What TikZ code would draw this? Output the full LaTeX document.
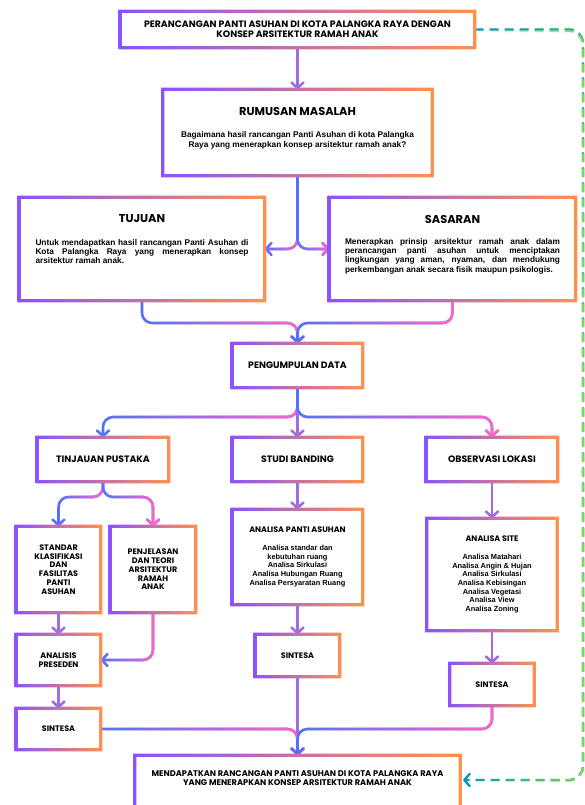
\documentclass[tikz,border=0pt]{standalone}
\usepackage{fontspec}
\setmainfont{Poppins}
\newfontfamily\bodyf{Liberation Sans}
\usetikzlibrary{arrows.meta,fadings}
\definecolor{bpurple}{HTML}{8C52FF}
\definecolor{borange}{HTML}{FF914D}
\definecolor{cblue}{HTML}{5271FF}
\definecolor{cpink}{HTML}{FF66C4}
\definecolor{dteal}{HTML}{0097B2}
\definecolor{dgreen}{HTML}{7ED957}
\tikzfading[name=fadeR, left color=transparent!100, right color=transparent!0]
\newcommand{\gframe}[1]{\shade[left color=bpurple,right color=borange,even odd rule]
 ([shift={(-1.6pt,-1.6pt)}]#1.south west) rectangle ([shift={(1.6pt,1.6pt)}]#1.north east)
 ([shift={(1.6pt,1.6pt)}]#1.south west) rectangle ([shift={(-1.6pt,-1.6pt)}]#1.north east);}
\tikzset{
  bx/.style 2 args={inner sep=0pt, minimum width=#1pt, minimum height=#2pt, align=center},
  ttl/.style={font=\fontsize{9.3}{10.4}\selectfont\bfseries},
  lbl/.style={font=\fontsize{8}{8.7}\selectfont\bfseries},
  big/.style={font=\fontsize{11.4}{13}\selectfont\bfseries},
  bodytxt/.style={font=\bodyf\bfseries\fontsize{8.3}{9.4}\selectfont},
  listtxt/.style={font=\bodyf\bfseries\fontsize{7.4}{8.7}\selectfont},
  tipA/.tip={Straight Barb[length=5.5pt,width=12pt,round]},
  conn/.style={line width=2.6pt, draw=cblue, rounded corners=10pt, line cap=round, -tipA,
     postaction={draw=cpink, path fading=fadeR}},
  vconn/.style={line width=2.6pt, draw=cblue!55!cpink, line cap=round, -tipA},
  dconn/.style={line width=2.4pt, draw=dteal, rounded corners=14pt, dash pattern=on 9pt off 6pt, -tipA,
     postaction={draw=dgreen, dash pattern=on 9pt off 6pt, path fading=fadeR}},
}
\begin{document}
\begin{tikzpicture}[x=1pt,y=-1pt]
\useasboundingbox[fill=white] (0,0) rectangle (585,805);

% boxes
\node[bx={354}{36}, ttl] (top) at (297.5,29.5) {PERANCANGAN PANTI ASUHAN DI KOTA PALANGKA RAYA DENGAN\\KONSEP ARSITEKTUR RAMAH ANAK};
\node[bx={269}{86}] (rum) at (297.5,132.5) {};
\node[bx={245}{103}] (tuj) at (142,249) {};
\node[bx={246}{103}] (sas) at (452.5,249) {};
\node[bx={130}{44}, ttl] (peng) at (297.5,365.5) {PENGUMPULAN DATA};
\node[bx={131}{44}, ttl] (tinj) at (103,459.5) {TINJAUAN PUSTAKA};
\node[bx={130}{44}, ttl] (stud) at (297.5,459.5) {STUDI BANDING};
\node[bx={131}{44}, ttl] (obs) at (492,459.5) {OBSERVASI LOKASI};
\node[bx={84}{86}, lbl] (std) at (58.5,569.5) {STANDAR\\KLASIFIKASI\\DAN\\FASILITAS\\PANTI\\ASUHAN};
\node[bx={85}{86}, lbl] (pen) at (153,569.5) {PENJELASAN\\DAN TEORI\\ARSITEKTUR\\RAMAH\\ANAK};
\node[bx={84}{51}, lbl] (pre) at (58.5,660) {ANALISIS\\PRESEDEN};
\node[bx={84}{41}, lbl] (sinL) at (58.5,729) {SINTESA};
\node[bx={130}{95}, listtxt] (apa) at (297.5,557) {{\normalfont\bfseries\fontsize{8}{8.7}\selectfont ANALISA PANTI ASUHAN}\\[9pt]Analisa standar dan\\kebutuhan ruang\\Analisa Sirkulasi\\Analisa Hubungan Ruang\\Analisa Persyaratan Ruang};
\node[bx={84}{42}, lbl] (sinM) at (297.5,655.5) {SINTESA};
\node[bx={130}{112}, listtxt] (site) at (492,574.5) {{\normalfont\bfseries\fontsize{8}{8.7}\selectfont ANALISA SITE}\\[9pt]Analisa Matahari\\Analisa Angin \& Hujan\\Analisa Sirkulasi\\Analisa Kebisingan\\Analisa Vegetasi\\Analisa View\\Analisa Zoning};
\node[bx={84}{42}, lbl] (sinR) at (492,684.5) {SINTESA};
\node[bx={325}{100}] (fin) at (297.5,805.5) {};

% texts of large boxes
\node[big] (rumT) at (297.5,111) {RUMUSAN MASALAH};
\node[bodytxt, align=center] (rumB) at (297.5,140.5) {Bagaimana hasil rancangan Panti Asuhan di kota Palangka\\Raya yang menerapkan konsep arsitektur ramah anak?};
\node[big] (tujT) at (142,219) {TUJUAN};
\node[bodytxt, align=justify, text width=213pt, inner sep=0pt] (tujB) at (142,251.5) {Untuk mendapatkan hasil rancangan Panti Asuhan di\linebreak Kota Palangka Raya yang menerapkan konsep\linebreak arsitektur ramah anak.};
\node[big] (sasT) at (452.5,219) {SASARAN};
\node[bodytxt, align=justify, text width=215pt, inner sep=0pt] (sasB) at (452.5,256) {Menerapkan prinsip arsitektur ramah anak dalam\linebreak perancangan panti asuhan untuk menciptakan\linebreak lingkungan yang aman, nyaman, dan mendukung\linebreak perkembangan anak secara fisik maupun psikologis.};
\node[font=\fontsize{8.25}{9}\selectfont\bfseries, align=center] (finT) at (297.5,778.5) {MENDAPATKAN RANCANGAN PANTI ASUHAN DI KOTA PALANGKA RAYA\\YANG MENERAPKAN KONSEP ARSITEKTUR RAMAH ANAK};

% junction coordinates
\coordinate (j1) at (297.5,323);
\coordinate (j2) at (297.5,417);
\coordinate (j3) at (103,497);
\coordinate (j5) at (297.5,729);
\coordinate (d1) at (583,780);
\coordinate (dend) at (463,780);

% connectors
\draw[vconn] (top.south) -- (rum.north);
\draw[conn] (rum.south) |- (tuj.east);
\draw[conn] (rum.south) |- (sas.west);
\draw[conn] (tuj.south) |- (j1) -- (peng.north);
\draw[conn] (sas.south) |- (j1) -- (peng.north);
\draw[conn] (peng.south) -- (j2) -| (tinj.north);
\draw[vconn] (peng.south) -- (stud.north);
\draw[conn] (peng.south) -- (j2) -| (obs.north);
\draw[conn] (tinj.south) -- (j3) -| (std.north);
\draw[conn] (tinj.south) -- (j3) -| (pen.north);
\draw[vconn] (std.south) -- (pre.north);
\draw[conn] (pen.south) |- (pre.east);
\draw[vconn] (pre.south) -- (sinL.north);
\draw[vconn] (stud.south) -- (apa.north);
\draw[vconn] (apa.south) -- (sinM.north);
\draw[vconn] (obs.south) -- (site.north);
\draw[vconn] (site.south) -- (sinR.north);
\draw[vconn] (sinM.south) -- (fin.north);
\draw[conn] (sinL.east) -| (fin.north);
\draw[conn] (sinR.south) |- (j5) -- (fin.north);
\draw[dconn] (top.east) -| (d1) -- (dend);

% gradient frames
\gframe{top}\gframe{rum}\gframe{tuj}\gframe{sas}\gframe{peng}
\gframe{tinj}\gframe{stud}\gframe{obs}\gframe{std}\gframe{pen}
\gframe{pre}\gframe{sinL}\gframe{apa}\gframe{sinM}\gframe{site}
\gframe{sinR}\gframe{fin}
\end{tikzpicture}
\end{document}
